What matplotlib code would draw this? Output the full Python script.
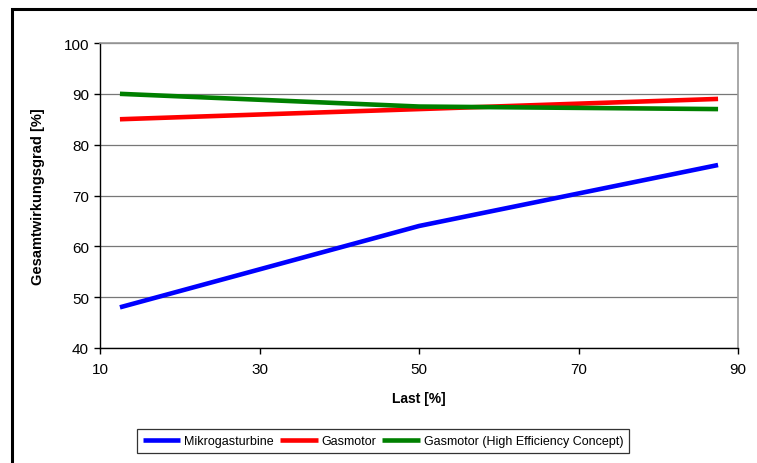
import matplotlib
matplotlib.use("Agg")
import matplotlib.pyplot as plt
from matplotlib.patches import Rectangle

plt.rcParams["font.family"] = ["Liberation Sans", "DejaVu Sans"]

# load points [%] and overall efficiency [%]
last = [12.5, 50, 87.5]
mikrogasturbine = [48, 64, 76]
gasmotor = [85, 87, 89]
gasmotor_hec = [90, 87.5, 87]

series_names = ["Mikrogasturbine", "Gasmotor", "Gasmotor (High Efficiency Concept)"]
series_colors = ["#0000FF", "#FF0000", "#008000"]

x_ticks = [10, 30, 50, 70, 90]
y_ticks = [40, 50, 60, 70, 80, 90, 100]

W, H = 757, 464
fig = plt.figure(figsize=(W / 100, H / 100), dpi=100)

# outer chart frame (only top/left edge inside the canvas)
fig.patches.append(Rectangle((12 / W, -0.1), 1.2, (H - 10) / H + 0.1,
                             transform=fig.transFigure, fill=False,
                             edgecolor="black", linewidth=2.2))

ax = fig.add_axes([100 / W, (H - 349) / H, 638 / W, 305 / H])

for vals, name, col in zip([mikrogasturbine, gasmotor, gasmotor_hec], series_names, series_colors):
    ax.plot(last, vals, color=col, linewidth=3.3, label=name, solid_capstyle="butt")

ax.set_xlim(10, 90)
ax.set_ylim(40, 100)
ax.set_xticks(x_ticks)
ax.set_yticks(y_ticks)
ax.grid(axis="y", color="#777777", linewidth=0.9)
ax.set_axisbelow(True)

for side in ["top", "right"]:
    ax.spines[side].set_color("#999999")
    ax.spines[side].set_linewidth(1.2)
for side in ["left", "bottom"]:
    ax.spines[side].set_color("black")
    ax.spines[side].set_linewidth(1.0)

ax.tick_params(direction="out", length=4, width=1, labelsize=11, pad=4)
ax.tick_params(axis="x", pad=6)
ax.set_xlabel("Last [%]", fontsize=10, fontweight="bold", labelpad=11)
ax.set_ylabel("Gesamtwirkungsgrad [%]", fontsize=10.5, fontweight="bold", labelpad=13)

leg = fig.legend(loc="center", bbox_to_anchor=(383 / W, 1 - 442 / H), ncol=3,
                 fontsize=9, frameon=True, fancybox=False, handlelength=3.0,
                 handletextpad=0.3, columnspacing=0.5, borderpad=0.5)
leg.get_frame().set_edgecolor("black")
leg.get_frame().set_linewidth(0.9)

fig.savefig("out.png", dpi=100)
